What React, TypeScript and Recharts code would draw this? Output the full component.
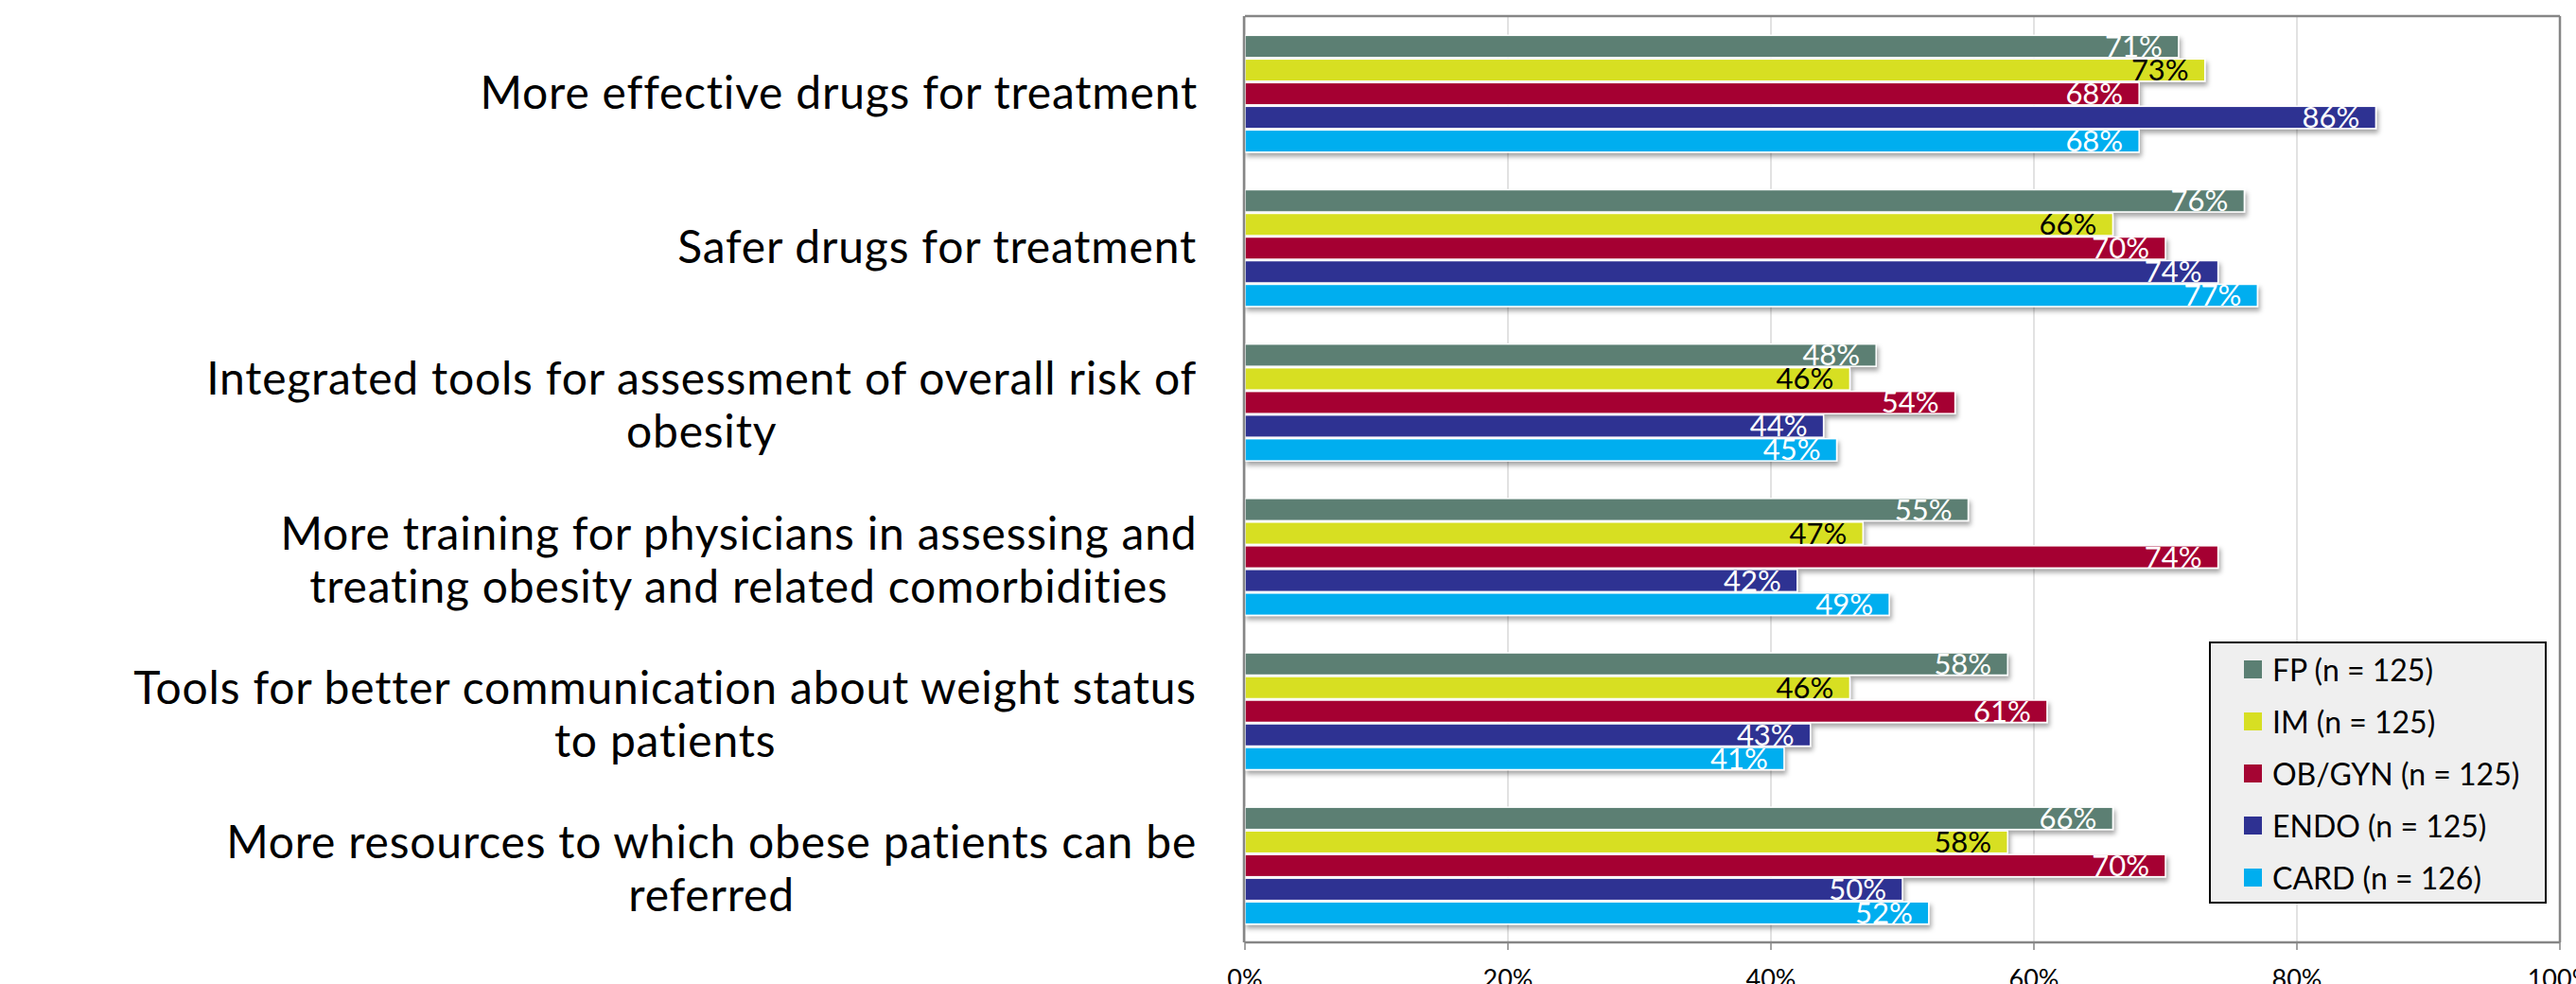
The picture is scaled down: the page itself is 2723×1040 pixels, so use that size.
import React from "react";
import {
  BarChart,
  Bar,
  XAxis,
  YAxis,
  CartesianGrid,
  LabelList,
} from "recharts";

// categories, top to bottom, with the line breaks used in the source
const categoryLines: string[][] = [
  ["More effective drugs for treatment"],
  ["Safer drugs for treatment"],
  ["Integrated tools for assessment of overall risk of", "obesity"],
  ["More training for physicians in assessing and", "treating obesity and related comorbidities"],
  ["Tools for better communication about weight status", "to patients"],
  ["More resources to which obese patients can be", "referred"],
];

const seriesNames = [
  "FP (n = 125)",
  "IM (n = 125)",
  "OB/GYN (n = 125)",
  "ENDO (n = 125)",
  "CARD (n = 126)",
];

const fpValues = [71, 76, 48, 55, 58, 66];
const imValues = [73, 66, 46, 47, 46, 58];
const obgynValues = [68, 70, 54, 74, 61, 70];
const endoValues = [86, 74, 44, 42, 43, 50];
const cardValues = [68, 77, 45, 49, 41, 52];

const xTicks = [0, 20, 40, 60, 80, 100];
const boundaryTicks = [0, 1, 2, 3, 4, 5, 6];

const seriesKeys = ["fp", "im", "obgyn", "endo", "card"];
const seriesColors = ["#5B7F73", "#D7DF23", "#A50533", "#2E3192", "#00AEEF"];
const labelColors = ["#ffffff", "#000000", "#ffffff", "#ffffff", "#ffffff"];

const data = categoryLines.map((lines, i) => ({
  name: lines.join(" "),
  fp: fpValues[i],
  im: imValues[i],
  obgyn: obgynValues[i],
  endo: endoValues[i],
  card: cardValues[i],
}));

const FONT = "Lato, 'Open Sans', sans-serif";
const AXIS_GRAY = "#868686";
const LABEL_RIGHT = 1266;
const CAT_SIZE = 48;
const CAT_SPACING = 0.8;

let measureCtx: CanvasRenderingContext2D | null = null;
function textWidth(s: string, size: number) {
  if (!measureCtx) measureCtx = document.createElement("canvas").getContext("2d");
  if (!measureCtx) return s.length * size * 0.5;
  measureCtx.font = `${size}px Lato`;
  return measureCtx.measureText(s).width + s.length * CAT_SPACING;
}

function CategoryTick(props: any) {
  const { y, payload, index } = props;
  const idx = payload?.index ?? index ?? 0;
  const lines = categoryLines[idx] ?? [String(payload?.value ?? "")];
  const widest = Math.max(...lines.map((l) => textWidth(l, CAT_SIZE)));
  const cx = LABEL_RIGHT - widest / 2;
  const n = lines.length;
  return (
    <g>
      {lines.map((l, i) => (
        <text
          key={i}
          x={cx}
          y={y + 16.5 + 4 * (n - 1) + (i - (n - 1) / 2) * 56}
          textAnchor="middle"
          fontFamily={FONT}
          fontSize={CAT_SIZE}
          letterSpacing={CAT_SPACING}
          fill="#000"
        >
          {l}
        </text>
      ))}
    </g>
  );
}

function ShadowBar(props: any) {
  const { x, y, width, height, fill } = props;
  if (!width || width <= 0) return null;
  return (
    <rect
      x={x}
      y={y + 0.75}
      width={width}
      height={height - 1.5}
      fill={fill}
      stroke="#ffffff"
      strokeWidth={1.5}
      filter="url(#barShadow)"
    />
  );
}

function makeValueLabel(color: string) {
  return function ValueLabel(props: any) {
    const { x, y, width, height, value } = props;
    return (
      <text
        x={x + width - 17}
        y={y + height / 2 + 11}
        textAnchor="end"
        fontFamily={FONT}
        fontSize={31}
        fill={color}
      >
        {`${value}%`}
      </text>
    );
  };
}

function LegendBox() {
  return (
    <div
      style={{
        position: "absolute",
        left: 2335,
        top: 678,
        boxSizing: "border-box",
        width: 357,
        height: 277,
        background: "#EFEFEF",
        border: "2px solid #000",
        fontFamily: FONT,
        fontSize: 32,
        color: "#000",
      }}
    >
      {seriesNames.map((name, i) => (
        <div
          key={name}
          style={{ height: 55, display: "flex", alignItems: "center", position: "relative" }}
        >
          <span
            style={{
              position: "absolute",
              left: 35,
              width: 19,
              height: 19,
              background: seriesColors[i],
            }}
          />
          <span style={{ position: "absolute", left: 65, whiteSpace: "nowrap" }}>{name}</span>
        </div>
      ))}
    </div>
  );
}

export default function App() {
  return (
    <div style={{ position: "absolute", left: 0, top: 0, width: 2723, height: 1040, background: "#fff" }}>
      <BarChart
        width={2723}
        height={1040}
        data={data}
        layout="vertical"
        margin={{ top: 16, right: 16, bottom: 0, left: 1314 }}
        barCategoryGap="12%"
        barGap={0}
      >
        <defs>
          <filter id="barShadow" x="-5%" y="-60%" width="112%" height="240%">
            <feDropShadow dx="2" dy="4" stdDeviation="2.5" floodColor="#000" floodOpacity="0.35" />
          </filter>
        </defs>
        <CartesianGrid horizontal={false} stroke="#d9d9d9" strokeWidth={1.5} />
        <XAxis
          type="number"
          domain={[0, 100]}
          ticks={xTicks}
          tickFormatter={(v) => `${v}%`}
          height={44}
          tickSize={8}
          tickMargin={21}
          axisLine={{ stroke: AXIS_GRAY, strokeWidth: 2.5 }}
          tickLine={{ stroke: AXIS_GRAY, strokeWidth: 1.5 }}
          tick={{ fontFamily: FONT, fontSize: 27, fill: "#000" }}
          interval={0}
        />
        <XAxis
          xAxisId="top"
          orientation="top"
          type="number"
          domain={[0, 100]}
          height={1}
          tick={false}
          tickLine={false}
          axisLine={{ stroke: AXIS_GRAY, strokeWidth: 2.5 }}
        />
        <YAxis
          type="category"
          dataKey="name"
          width={1}
          axisLine={false}
          tickLine={false}
          tick={<CategoryTick />}
          interval={0}
        />
        <YAxis
          yAxisId="bounds"
          type="number"
          domain={[0, 6]}
          ticks={boundaryTicks}
          width={1}
          tickSize={16}
          tick={false}
          axisLine={{ stroke: AXIS_GRAY, strokeWidth: 2.5 }}
          tickLine={{ stroke: AXIS_GRAY, strokeWidth: 2 }}
          interval={0}
        />
        <YAxis
          yAxisId="right"
          orientation="right"
          type="number"
          domain={[0, 6]}
          width={1}
          tick={false}
          tickLine={false}
          axisLine={{ stroke: AXIS_GRAY, strokeWidth: 2.5 }}
        />
        {seriesKeys.map((k, i) => (
          <Bar
            key={k}
            dataKey={k}
            name={seriesNames[i]}
            fill={seriesColors[i]}
            shape={<ShadowBar />}
            isAnimationActive={false}
          >
            <LabelList dataKey={k} content={makeValueLabel(labelColors[i])} />
          </Bar>
        ))}
      </BarChart>
      <LegendBox />
    </div>
  );
}
